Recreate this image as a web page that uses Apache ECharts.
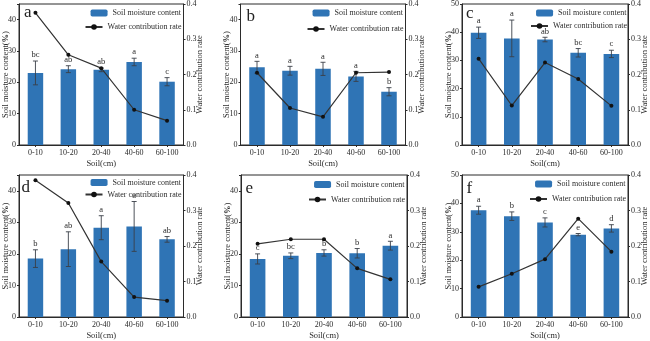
<!DOCTYPE html>
<html>
<head>
<meta charset="utf-8">
<script src="https://cdn.jsdelivr.net/npm/echarts@6/dist/echarts.min.js"></script>
<style>
  html, body { margin: 0; padding: 0; background: #fff; }
  #chart { width: 650px; height: 341px; }
</style>
</head>
<body>
<div id="chart"></div>
<script>
// Soil depth classes shared by all six panels
const depthLabels = ['0-10', '10-20', '20-40', '40-60', '60-100'];
const panelLetters = ['a', 'b', 'c', 'd', 'e', 'f'];
const leftTicks = [0, 10, 20, 30, 40, 50];
const rightTicks = [0.0, 0.1, 0.2, 0.3, 0.4];

// Panel a
const moistureA = [23.0, 24.2, 24.0, 26.5, 20.2];
const errorA = [3.8, 1.1, 0.6, 1.2, 1.3];
const rateA = [0.375, 0.256, 0.218, 0.100, 0.069];
const lettersA = ['bc', 'ab', 'ab', 'a', 'c'];

// Panel b
const moistureB = [24.8, 23.7, 24.3, 21.9, 17.0];
const errorB = [1.9, 1.4, 2.1, 1.6, 1.3];
const rateB = [0.205, 0.105, 0.080, 0.205, 0.207];
const lettersB = ['a', 'a', 'a', 'a', 'b'];

// Panel c
const moistureC = [39.8, 37.8, 37.4, 32.7, 32.3];
const errorC = [2.0, 6.5, 0.8, 1.5, 1.3];
const rateC = [0.245, 0.112, 0.234, 0.187, 0.111];
const lettersC = ['a', 'a', 'ab', 'bc', 'c'];

// Panel d
const moistureD = [18.5, 21.5, 28.3, 28.7, 24.6];
const errorD = [2.8, 5.5, 3.8, 7.9, 0.9];
const rateD = [0.385, 0.321, 0.156, 0.056, 0.046];
const lettersD = ['b', 'ab', 'a', 'a', 'ab'];

// Panel e
const moistureE = [18.4, 19.4, 20.3, 20.2, 22.6];
const errorE = [1.6, 0.9, 1.0, 1.5, 1.4];
const rateE = [0.206, 0.219, 0.219, 0.137, 0.106];
const lettersE = ['c', 'bc', 'b', 'b', 'a'];

// Panel f
const moistureF = [37.6, 35.5, 33.3, 29.0, 31.2];
const errorF = [1.4, 1.5, 1.6, 0.4, 1.3];
const rateF = [0.085, 0.122, 0.163, 0.277, 0.184];
const lettersF = ['a', 'b', 'c', 'e', 'd'];

const panels = [
  { moisture: moistureA, error: errorA, rate: rateA, letters: lettersA, yMax: 45 },
  { moisture: moistureB, error: errorB, rate: rateB, letters: lettersB, yMax: 45 },
  { moisture: moistureC, error: errorC, rate: rateC, letters: lettersC, yMax: 50 },
  { moisture: moistureD, error: errorD, rate: rateD, letters: lettersD, yMax: 45 },
  { moisture: moistureE, error: errorE, rate: rateE, letters: lettersE, yMax: 45 },
  { moisture: moistureF, error: errorF, rate: rateF, letters: lettersF, yMax: 50 }
];

// Plot boxes, legend row centres and panel-letter anchors
const layouts = [
  { left: 17.5, top: 3, width: 166, height: 142, leg: [14, 28], tag: [24, 17] },
  { left: 240.5, top: 3, width: 165, height: 142, leg: [14, 30], tag: [246.5, 21] },
  { left: 462, top: 3, width: 167, height: 142, leg: [14, 27], tag: [466, 18] },
  { left: 17.5, top: 175, width: 166, height: 143, leg: [183.5, 195.5], tag: [21.5, 192] },
  { left: 241, top: 175, width: 166, height: 143, leg: [185.5, 200.5], tag: [245.5, 193] },
  { left: 462, top: 175, width: 166, height: 143, leg: [185, 200], tag: [466.5, 193.5] }
];

const SERIF = "'Liberation Serif', 'Times New Roman', serif";
const INK = '#2b2b2b';
const BLUE = '#2f74b5';
const W = 650;

const chart = echarts.init(document.getElementById('chart'), null, { renderer: 'canvas' });

const grid = [], xAxis = [], yAxis = [], series = [], legend = [], graphic = [];

panels.forEach((p, i) => {
  const L = layouts[i];
  grid.push({
    left: L.left, top: L.top, width: L.width, height: L.height,
    show: true, borderColor: INK, borderWidth: 1, backgroundColor: 'transparent'
  });

  xAxis.push({
    type: 'category', gridIndex: i, data: depthLabels, boundaryGap: true,
    axisLine: { lineStyle: { color: INK, width: 1 } },
    axisTick: { show: true, alignWithLabel: true, length: 2, lineStyle: { color: INK } },
    axisLabel: { fontSize: 8, color: INK, fontFamily: SERIF, margin: 4, interval: 0 },
    name: 'Soil(cm)', nameLocation: 'middle', nameGap: 14,
    nameTextStyle: { fontSize: 8.5, color: INK, fontFamily: SERIF }
  });

  yAxis.push({
    type: 'value', gridIndex: i, position: 'left',
    min: 0, max: p.yMax, interval: 10,
    splitLine: { show: false },
    axisLine: { show: true, lineStyle: { color: INK, width: 1 } },
    axisTick: { show: true, length: 2, lineStyle: { color: INK } },
    axisLabel: {
      fontSize: 8, color: INK, fontFamily: SERIF, margin: 3,
      formatter: v => (leftTicks.indexOf(v) >= 0 ? String(v) : '')
    },
    name: '{n|Soil moisture content(}{b|%}{n|)}',
    nameLocation: 'middle', nameGap: 9, nameRotate: 90, nameMoveOverlap: false,
    nameTextStyle: {
      color: INK,
      rich: {
        n: { fontSize: 8.5, fontFamily: SERIF, color: INK },
        b: { fontSize: 8.5, fontFamily: SERIF, color: INK, fontWeight: 'bold' }
      }
    }
  });

  yAxis.push({
    type: 'value', gridIndex: i, position: 'right',
    min: 0, max: 0.4, interval: 0.1,
    splitLine: { show: false },
    axisLine: { show: true, lineStyle: { color: INK, width: 1 } },
    axisTick: { show: true, length: 2, lineStyle: { color: INK } },
    axisLabel: {
      fontSize: 8, color: INK, fontFamily: SERIF, margin: 3,
      formatter: v => {
        const hit = rightTicks.find(t => Math.abs(t - v) < 1e-6);
        return hit === undefined ? '' : hit.toFixed(1);
      }
    },
    name: 'Water contribution rate',
    nameLocation: 'middle', nameGap: 12, nameRotate: 90, nameMoveOverlap: false,
    nameTextStyle: { fontSize: 8.5, color: INK, fontFamily: SERIF }
  });

  series.push({
    type: 'bar', name: 'Soil moisture content',
    xAxisIndex: i, yAxisIndex: 2 * i,
    data: p.moisture, barWidth: '47%',
    itemStyle: { color: BLUE }, z: 2
  });

  // error bars with significance letters on top
  series.push({
    type: 'custom', xAxisIndex: i, yAxisIndex: 2 * i, silent: true, z: 3,
    data: p.moisture.map((m, k) => [k, m, p.error[k]]),
    encode: { x: 0, y: 1 },
    renderItem: (params, api) => {
      const k = api.value(0), m = api.value(1), e = api.value(2);
      const hi = api.coord([k, m + e]);
      const lo = api.coord([k, m - e]);
      const cap = 2.5;
      const st = { stroke: '#3a3f47', lineWidth: 0.9 };
      return {
        type: 'group',
        children: [
          { type: 'line', shape: { x1: hi[0], y1: hi[1], x2: lo[0], y2: lo[1] }, style: st },
          { type: 'line', shape: { x1: hi[0] - cap, y1: hi[1], x2: hi[0] + cap, y2: hi[1] }, style: st },
          { type: 'line', shape: { x1: lo[0] - cap, y1: lo[1], x2: lo[0] + cap, y2: lo[1] }, style: st },
          {
            type: 'text',
            style: {
              text: p.letters[params.dataIndex], x: hi[0], y: hi[1] - 1.5,
              align: 'center', verticalAlign: 'bottom',
              font: '8.5px ' + SERIF, fill: INK
            }
          }
        ]
      };
    }
  });

  series.push({
    type: 'line', name: 'Water contribution rate',
    xAxisIndex: i, yAxisIndex: 2 * i + 1,
    data: p.rate, symbol: 'circle', symbolSize: 4,
    lineStyle: { color: '#333', width: 1.2 },
    itemStyle: { color: '#111' }, z: 4
  });

  const rightGap = W - (L.left + L.width) + 2.5;
  legend.push({
    data: ['Soil moisture content'], right: rightGap, top: L.leg[0] - 5,
    itemWidth: 17, itemHeight: 7, padding: 0, selectedMode: false,
    textStyle: { fontSize: 8, color: INK, fontFamily: SERIF }
  });
  legend.push({
    data: ['Water contribution rate'], right: rightGap - 0.5, top: L.leg[1] - 5,
    itemWidth: 17, itemHeight: 7, padding: 0, selectedMode: false,
    textStyle: { fontSize: 8, color: INK, fontFamily: SERIF }
  });

  graphic.push({
    type: 'text', left: L.tag[0], top: L.tag[1] - 13, z: 10, silent: true,
    style: { text: panelLetters[i], font: '17px ' + SERIF, fill: '#222' }
  });
});

chart.setOption({
  animation: false,
  backgroundColor: '#fff',
  grid, xAxis, yAxis, series, legend, graphic
});
</script>
</body>
</html>
